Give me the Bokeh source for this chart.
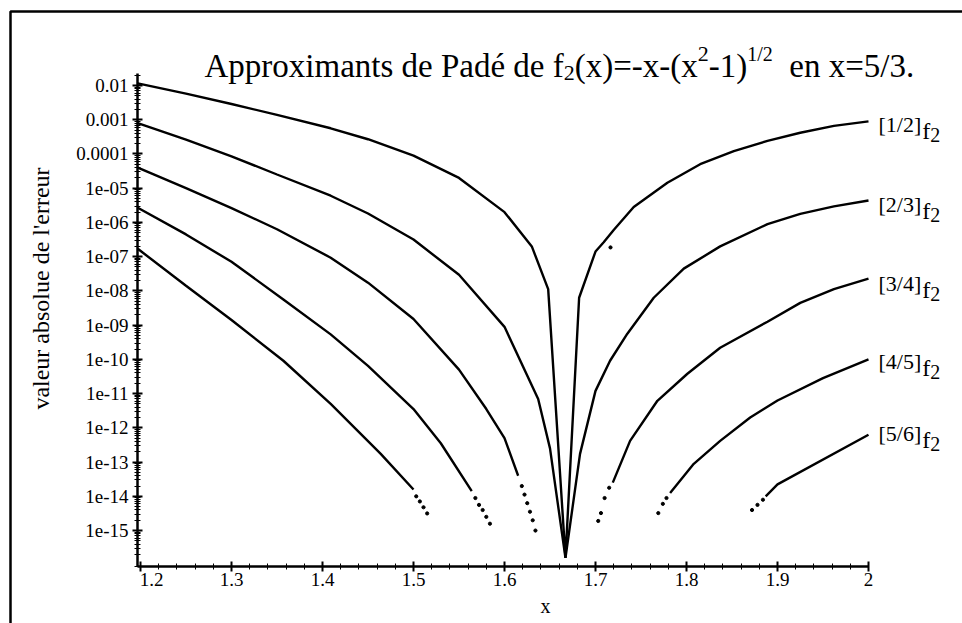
import numpy as np
from bokeh.plotting import figure
from bokeh.models import Range1d, FixedTicker, Label, PolyAnnotation
from bokeh.embed import file_html
from bokeh.resources import INLINE

# ---------------------------------------------------------------------------
# |f2(x) - [n/n+1](x)| for f2(x) = -x - sqrt(x^2 - 1), expansions at x = 5/3.
# Values are stored as log10 of the absolute error.
# "solid" parts are drawn as lines, "dot" parts are isolated round-off points.
# ---------------------------------------------------------------------------

# [1/2]
p12_x = [1.197, 1.25, 1.30, 1.35, 1.409, 1.45, 1.50, 1.55, 1.60, 1.63, 1.648,
         1.667, 1.682, 1.700, 1.709, 1.72, 1.742, 1.779, 1.815, 1.852, 1.889,
         1.925, 1.962, 2.0]
p12_exp = [-1.94, -2.24, -2.54, -2.86, -3.25, -3.57, -4.05, -4.7, -5.7, -6.7, -7.95,
           -15.8, -8.2, -6.85, -6.58, -6.22, -5.55, -4.84, -4.3, -3.92, -3.62,
           -3.38, -3.18, -3.05]
p12_dot_x = [1.7165]
p12_dot_exp = [-6.73]

# [2/3]
p23_x = [1.197, 1.25, 1.30, 1.35, 1.409, 1.45, 1.50, 1.55, 1.60, 1.637, 1.65,
         1.667, 1.683, 1.70, 1.716, 1.735, 1.764, 1.797, 1.837, 1.889, 1.925,
         1.962, 2.0]
p23_exp = [-3.1, -3.58, -4.07, -4.6, -5.22, -5.74, -6.5, -7.53, -9.05, -11.16, -12.6,
           -15.8, -12.76, -10.92, -10.04, -9.25, -8.2, -7.35, -6.7, -6.05, -5.75,
           -5.53, -5.36]

# [3/4]
p34_left_x = [1.197, 1.25, 1.30, 1.35, 1.409, 1.45, 1.50, 1.55, 1.58, 1.60, 1.615]
p34_left_exp = [-4.4, -5.0, -5.58, -6.2, -7.03, -7.76, -8.82, -10.3, -11.45, -12.3, -13.4]
p34_right_x = [1.719, 1.738, 1.768, 1.801, 1.837, 1.889, 1.925, 1.962, 2.0]
p34_right_exp = [-13.6, -12.38, -11.21, -10.42, -9.66, -8.9, -8.35, -7.95, -7.64]
p34_dot_x = [1.619, 1.622, 1.625, 1.628, 1.631, 1.634, 1.703, 1.706, 1.710, 1.715]
p34_dot_exp = [-13.7, -13.95, -14.2, -14.45, -14.7, -15.0, -14.72, -14.49, -14.05, -13.75]

# [4/5]
p45_left_x = [1.197, 1.25, 1.30, 1.357, 1.409, 1.45, 1.50, 1.53, 1.564]
p45_left_exp = [-5.57, -6.35, -7.15, -8.25, -9.27, -10.19, -11.45, -12.45, -13.85]
p45_right_x = [1.782, 1.808, 1.837, 1.87, 1.90, 1.95, 2.0]
p45_right_exp = [-13.9, -13.05, -12.38, -11.7, -11.2, -10.55, -10.0]
p45_dot_x = [1.568, 1.572, 1.576, 1.580, 1.584, 1.769, 1.774, 1.778]
p45_dot_exp = [-14.05, -14.25, -14.4, -14.6, -14.8, -14.49, -14.22, -14.05]

# [5/6]
p56_left_x = [1.197, 1.25, 1.30, 1.357, 1.409, 1.464, 1.50]
p56_left_exp = [-6.77, -7.85, -8.85, -10.04, -11.3, -12.76, -13.8]
p56_right_x = [1.887, 1.90, 2.0]
p56_right_exp = [-14.0, -13.65, -12.2]
p56_dot_x = [1.503, 1.507, 1.511, 1.515, 1.872, 1.878, 1.884]
p56_dot_exp = [-14.0, -14.15, -14.32, -14.5, -14.4, -14.25, -14.1]

# curve names written at the right end of each curve
pade_names = ["1/2", "2/3", "3/4", "4/5", "5/6"]

# axis ticks
xtick_vals = [1.2, 1.3, 1.4, 1.5, 1.6, 1.7, 1.8, 1.9, 2.0]
xtick_labels = ["1.2", "1.3", "1.4", "1.5", "1.6", "1.7", "1.8", "1.9", "2"]
ytick_exp = [-2, -3, -4, -5, -6, -7, -8, -9, -10, -11, -12, -13, -14, -15]
ytick_labels = ["0.01", "0.001", "0.0001", "1e-05", "1e-06", "1e-07", "1e-08",
                "1e-09", "1e-10", "1e-11", "1e-12", "1e-13", "1e-14", "1e-15"]

# ---------------------------------------------------------------------------
# geometry: the data frame fills the whole canvas, the axes sit at fixed
# locations inside it (left edge x = XMIN, bottom edge y = 10**LBOT)
W, H = 962, 623
AX_L, AX_R, AX_T, AX_B = 137, 868, 73, 566      # pixel extent of the axes box
XMIN, XMAX = 1.1967, 2.0
LTOP, LBOT = -1.65, -16.05


def sx(px):
    """canvas pixel column -> data x"""
    return XMIN + (px - AX_L) / (AX_R - AX_L) * (XMAX - XMIN)


def sy(py):
    """canvas pixel row -> data y (log axis)"""
    return 10.0 ** (LTOP - (py - AX_T) / (AX_B - AX_T) * (LTOP - LBOT))


def pw(e):
    return [10.0 ** v for v in e]


# Times-compatible advance widths (1/1000 em) for laying out text runs
TIMES = {"A": 722, "p": 500, "r": 333, "o": 500, "x": 500, "i": 278, "m": 778,
         "a": 444, "n": 500, "t": 278, "s": 389, " ": 250, "d": 500, "e": 444,
         "P": 556, "é": 444, "f": 333, "(": 333, ")": 333, "=": 564, "-": 333,
         "1": 500, "2": 500, "3": 500, "4": 500, "5": 500, "6": 500, "/": 278,
         ".": 250, "[": 333, "]": 333}


def tw(s, size):
    return sum(TIMES.get(c, 500) for c in s) * size / 1000.0


SERIF = "Liberation Serif"

p = figure(width=W, height=H, y_axis_type="log",
           x_range=Range1d(sx(0), sx(W)), y_range=Range1d(sy(H), sy(0)),
           output_backend="svg", toolbar_location=None,
           min_border=0, min_border_left=0, min_border_right=0,
           min_border_top=0, min_border_bottom=0)
p.outline_line_color = None
p.grid.visible = False
p.background_fill_color = "white"
p.border_fill_color = "white"

# axes
xa, ya = p.xaxis[0], p.yaxis[0]
xa.fixed_location = 10.0 ** LBOT
ya.fixed_location = XMIN
xa.bounds = (XMIN, XMAX)
ya.bounds = (10.0 ** LBOT, 10.0 ** LTOP)
xa.ticker = FixedTicker(ticks=xtick_vals,
                        minor_ticks=[round(1.2 + 0.02 * i, 2) for i in range(41)])
# the first label is set a little to the right of its tick, clear of the corner
xa.major_label_overrides = dict(zip(xtick_vals, [""] + xtick_labels[1:]))
ya_minor = [m * 10.0 ** e for e in range(-17, -1) for m in range(2, 10)]
ya_minor = [v for v in ya_minor if 10.0 ** LBOT <= v <= 10.0 ** LTOP]
ya.ticker = FixedTicker(ticks=[10.0 ** e for e in ytick_exp], minor_ticks=ya_minor)
ya.major_label_overrides = {10.0 ** e: lab for e, lab in zip(ytick_exp, ytick_labels)}

for ax in (xa, ya):
    ax.axis_line_width = 2.5
    ax.axis_line_color = "black"
    ax.major_tick_line_color = "black"
    ax.major_tick_line_width = 2
    ax.major_tick_in = 5
    ax.major_tick_out = 5
    ax.minor_tick_line_color = "black"
    ax.minor_tick_line_width = 1
    ax.minor_tick_in = 3
    ax.minor_tick_out = 3
    ax.major_label_text_font = SERIF
    ax.major_label_text_font_size = "19px"
    ax.major_label_text_color = "black"
ya.major_label_standoff = 4
xa.major_label_standoff = 1

# curves
LW = 2.4
p.line(p12_x, pw(p12_exp), line_width=LW, color="black")
p.line(p23_x, pw(p23_exp), line_width=LW, color="black")
for xs, es in [(p34_left_x, p34_left_exp), (p34_right_x, p34_right_exp),
               (p45_left_x, p45_left_exp), (p45_right_x, p45_right_exp),
               (p56_left_x, p56_left_exp), (p56_right_x, p56_right_exp)]:
    p.line(xs, pw(es), line_width=LW, color="black")
for xs, es in [(p12_dot_x, p12_dot_exp), (p34_dot_x, p34_dot_exp),
               (p45_dot_x, p45_dot_exp), (p56_dot_x, p56_dot_exp)]:
    p.scatter(xs, pw(es), size=3.2, color="black", marker="circle")


def put(px, py, txt, size, align="left", baseline="alphabetic", angle=0.0):
    p.add_layout(Label(x=sx(px), y=sy(py), text=txt, text_font=SERIF,
                       text_font_size=f"{size}px", text_color="black", angle=angle,
                       text_align=align, text_baseline=baseline))


# first x tick label
put(151, 572, xtick_labels[0], 19, align="center", baseline="top")

# title with sub/superscripts
title_runs = [("Approximants de Padé de f", 33, 0), ("2", 22, 7), ("(x)=-x-(x", 33, 0),
              ("2", 22, -12), ("-1)", 33, 0), ("1/2", 20, -12), ("  ", 33, None),
              ("en x=5/3.", 33, 0)]
cx, base = 204, 65
for txt, size, dy in title_runs:
    if dy is not None:
        put(cx, base + dy, txt, size)
    cx += tw(txt, size)

# names at the right end of each curve
for name, b in zip(pade_names, [124, 204, 283, 361, 433]):
    x0 = 878
    put(x0, b, f"[{name}]", 22)
    x1 = x0 + tw(f"[{name}]", 22) + 1
    put(x1, b + 6, "f", 24)
    put(x1 + tw("f", 24), b + 10, "2", 20)

# axis titles
put(545, 605, "x", 20, align="center")
put(40, 288, "valeur absolue de l'erreur", 24, align="center", baseline="middle",
    angle=np.pi / 2)

# page frame (left and top rules)
p.add_layout(PolyAnnotation(xs=[sx(10), sx(10), sx(1100), sx(1100)],
                            ys=[sy(800), sy(11), sy(11), sy(800)],
                            fill_color=None, fill_alpha=0,
                            line_color="black", line_alpha=1.0, line_width=2.5))

open("out.html", "w").write(file_html(p, INLINE))
